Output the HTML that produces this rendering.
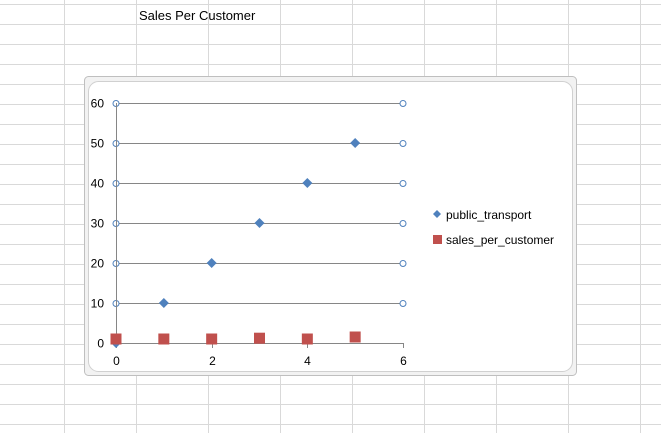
<!DOCTYPE html>
<html><head><meta charset="utf-8"><style>
body{margin:0;width:661px;height:433px;overflow:hidden;background:#fff;font-family:"Liberation Sans",sans-serif}
text{font-family:"Liberation Sans",sans-serif}
</style></head><body>
<svg id="s" width="661" height="433">
<g id="grid"></g>
<text x="139" y="20" font-size="13" fill="#000">Sales Per Customer</text>
<rect x="84.5" y="76.5" width="492" height="299" rx="4" fill="#f2f2f2" stroke="#bfbfbf"/>
<rect x="88.5" y="81.5" width="484" height="290" rx="10" fill="#fff" stroke="#d0d0d0"/>
<g id="plot"></g>
<g>
<g>
<path d="M437 210 L441 214 L437 218 L433 214 Z" fill="#4f81bd"/>
<text x="446" y="219" font-size="12" fill="#000">public_transport</text></g>
<g>
<rect x="433" y="235" width="9" height="9" fill="#c0504d"/>
<text x="446" y="244" font-size="12" fill="#000">sales_per_customer</text></g>
</g>
</svg>
<script>
const xTicks=[0,2,4,6];
const yTicks=[0,10,20,30,40,50,60];
const ptX=[0,1,2,3,4,5];
const ptY=[0,10,20,30,40,50];
const spcX=[0,1,2,3,4,5];
const spcY=[1,1,1,1.2,1,1.5];
const NS="http://www.w3.org/2000/svg";
const sx=v=>116+v*(403-116)/6;
const sy=v=>343-v*4;
function mk(t,a,p){const e=document.createElementNS(NS,t);for(const k in a)e.setAttribute(k,a[k]);p.appendChild(e);return e;}
const grid=document.getElementById('grid');
for(let y=4.5;y<433;y+=20){const l=mk('line',{x1:0,x2:661,y1:y,y2:y,stroke:'#d9d9d9'},grid);

}
[64.5,136.5,208.5,280.5,352.5,424.5,496.5,568.5,640.5].forEach(x=>{const l=mk('line',{x1:x,x2:x,y1:0,y2:433,stroke:'#d9d9d9'},grid);

});
const p=document.getElementById('plot');
yTicks.forEach(v=>{const y=sy(v)+0.5;
if(v>0){const g=mk('line',{x1:sx(0),x2:sx(6),y1:y,y2:y,stroke:'#868686'},p);


[sx(0),sx(6)].forEach(cx=>{const c=mk('circle',{cx:cx,cy:y,r:3,fill:'#fff',stroke:'#4f81bd'},p);

});}
const t=mk('text',{x:104,y:y+4,'font-size':12,'text-anchor':'end',fill:'#000'},p);t.textContent=v;

});
const ya=mk('line',{x1:116.5,x2:116.5,y1:sy(60),y2:sy(0)+5,stroke:'#868686'},p);


const xa=mk('line',{x1:sx(0),x2:sx(6),y1:sy(0)+0.5,y2:sy(0)+0.5,stroke:'#868686'},p);


xTicks.forEach(v=>{const x=Math.round(sx(v))+0.5;
const k=mk('line',{x1:x,x2:x,y1:sy(0),y2:sy(0)+5,stroke:'#868686'},p);


const t=mk('text',{x:x,y:365,'font-size':12,'text-anchor':'middle',fill:'#000'},p);t.textContent=v;

});
ptX.forEach((v,i)=>{const x=sx(v),y=sy(ptY[i]);
const d=mk('path',{d:`M${x} ${y-5}L${x+5} ${y}L${x} ${y+5}L${x-5} ${y}Z`,fill:'#4f81bd'},p);

});
spcX.forEach((v,i)=>{const x=sx(v),y=sy(spcY[i]);
const r=mk('rect',{x:x-5.5,y:y-5.5,width:11,height:11,fill:'#c0504d'},p);

});
</script>
</body></html>
